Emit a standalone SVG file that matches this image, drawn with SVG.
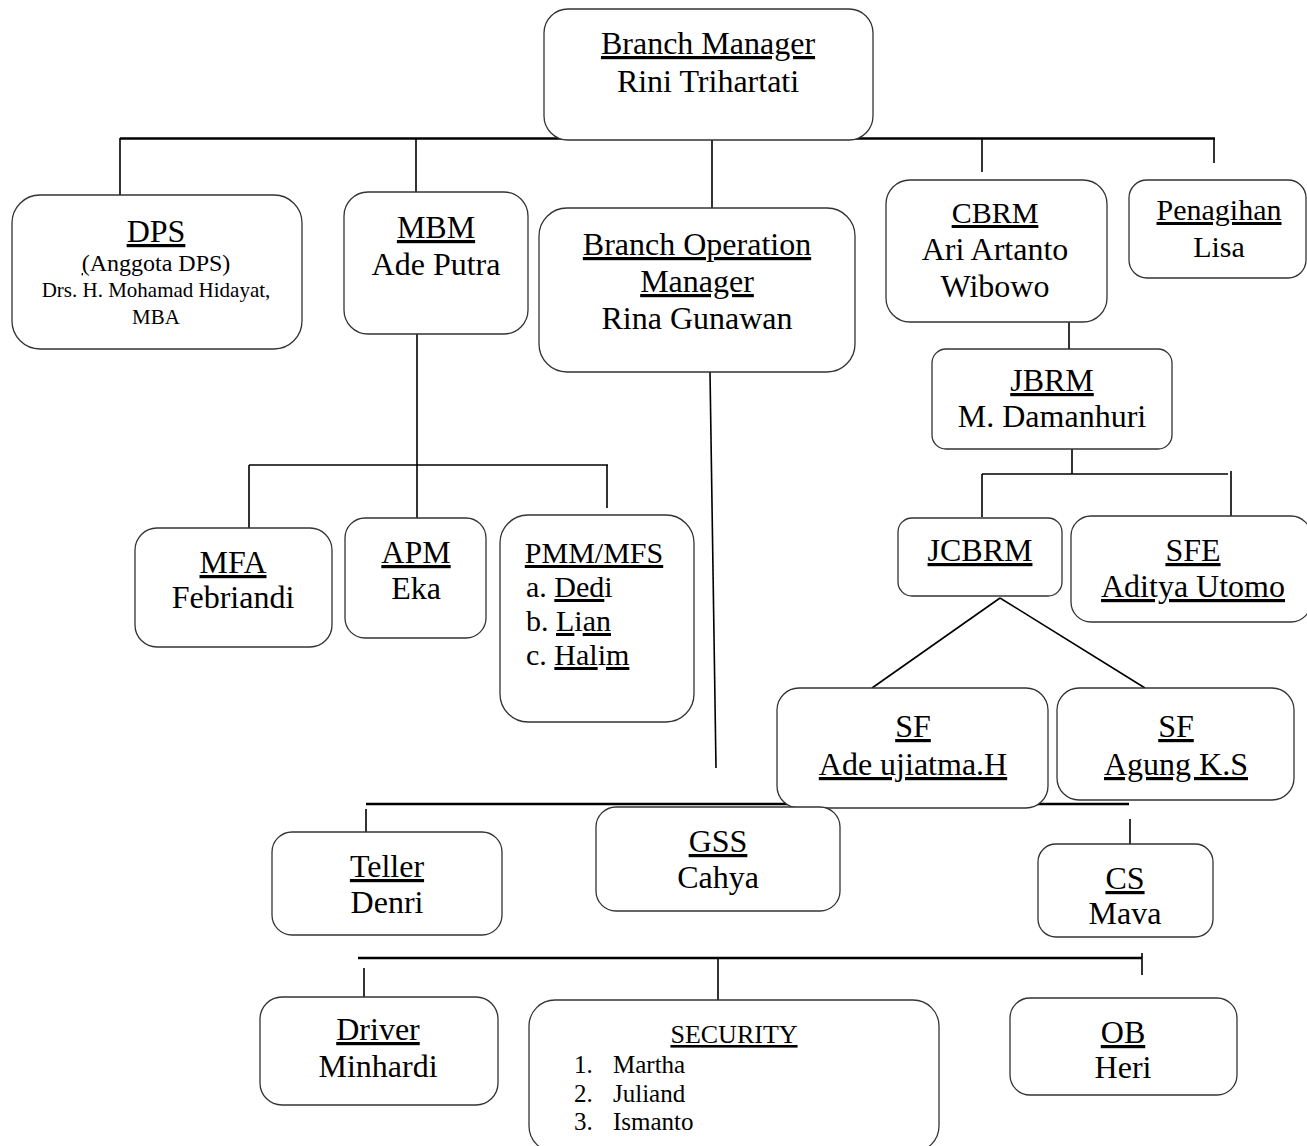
<svg xmlns="http://www.w3.org/2000/svg" width="1307" height="1146" viewBox="0 0 1307 1146">
<style>
.box{fill:#fff;stroke:#333;stroke-width:1.3}
.c{stroke:#000;stroke-width:1.6;fill:none}
.ct{stroke:#000;stroke-width:2.4;fill:none}
text{font-family:"Liberation Serif","Times New Roman",serif;fill:#000;font-size:32px;text-anchor:middle}
.u{text-decoration:underline}
.l{text-anchor:start}
text.f30{font-size:30px}
text.f24{font-size:24px}
text.f26{font-size:26px}
text.f25{font-size:25px}
text.f21{font-size:21px}
</style>
<rect width="1307" height="1146" fill="#fff"/>
<g id="connectors">
<line class="ct" x1="120" y1="138.5" x2="1215" y2="138.5"/>
<line class="c" x1="120" y1="138" x2="120" y2="195"/>
<line class="c" x1="416" y1="138" x2="416" y2="192"/>
<line class="c" x1="712" y1="138" x2="712" y2="208"/>
<line class="c" x1="982" y1="138" x2="982" y2="172"/>
<line class="c" x1="1214" y1="138" x2="1214" y2="163"/>
<line class="c" x1="417" y1="334" x2="417" y2="518"/>
<line class="c" x1="249" y1="465" x2="608" y2="465"/>
<line class="c" x1="249" y1="465" x2="249" y2="528"/>
<line class="c" x1="607" y1="465" x2="607" y2="508"/>
<line class="c" x1="710" y1="372" x2="716" y2="768"/>
<line class="c" x1="1069" y1="315" x2="1069" y2="349"/>
<line class="c" x1="1072" y1="449" x2="1072" y2="474"/>
<line class="c" x1="982" y1="474" x2="1228" y2="474"/>
<line class="c" x1="982" y1="474" x2="982" y2="517"/>
<line class="c" x1="1231" y1="471" x2="1231" y2="517"/>
<line class="c" x1="1000" y1="598" x2="872" y2="688"/>
<line class="c" x1="1000" y1="598" x2="1145" y2="688"/>
<line class="ct" x1="366" y1="804" x2="1129" y2="804"/>
<line class="c" x1="366" y1="809" x2="366" y2="832"/>
<line class="c" x1="1130" y1="819" x2="1130" y2="845"/>
<line class="ct" x1="358" y1="958" x2="1142" y2="958"/>
<line class="c" x1="1142" y1="953" x2="1142" y2="975"/>
<line class="c" x1="364" y1="968" x2="364" y2="998"/>
<line class="c" x1="718" y1="958" x2="718" y2="1000"/>
</g>
<g id="branch-manager">
<rect class="box" x="544" y="9" width="329" height="131" rx="24"/>
<text x="708" y="54" class="u">Branch Manager</text>
<text x="708" y="92">Rini Trihartati</text>
</g>
<g id="dps">
<rect class="box" x="12" y="195" width="290" height="154" rx="28"/>
<text x="156" y="242" class="u">DPS</text>
<text x="156" y="271" class="f24"><tspan class="u">(</tspan>Anggota DPS)</text>
<text x="156" y="297" class="f21">Drs. H. Mohamad Hidayat,</text>
<text x="156" y="324" class="f21">MBA</text>
</g>
<g id="mbm">
<rect class="box" x="344" y="192" width="184" height="142" rx="24"/>
<text x="436" y="238" class="u">MBM</text>
<text x="436" y="275">Ade Putra</text>
</g>
<g id="bom">
<rect class="box" x="539" y="208" width="316" height="164" rx="28"/>
<text x="697" y="255" class="u">Branch Operation</text>
<text x="697" y="292" class="u">Manager</text>
<text x="697" y="329">Rina Gunawan</text>
</g>
<g id="cbrm">
<rect class="box" x="886" y="180" width="221" height="142" rx="24"/>
<text x="995" y="223" class="f30 u">CBRM</text>
<text x="995" y="260">Ari Artanto</text>
<text x="995" y="297">Wibowo</text>
</g>
<g id="penagihan">
<rect class="box" x="1129" y="180" width="177" height="98" rx="18"/>
<text x="1219" y="220" class="f30 u">Penagihan</text>
<text x="1219" y="257" class="f30">Lisa</text>
</g>
<g id="jbrm">
<rect class="box" x="932" y="349" width="240" height="100" rx="14"/>
<text x="1052" y="391" class="u">JBRM</text>
<text x="1052" y="427">M. Damanhuri</text>
</g>
<g id="mfa">
<rect class="box" x="135" y="528" width="197" height="119" rx="22"/>
<text x="233" y="573" class="u">MFA</text>
<text x="233" y="608">Febriandi</text>
</g>
<g id="apm">
<rect class="box" x="345" y="518" width="141" height="120" rx="20"/>
<text x="416" y="563" class="u">APM</text>
<text x="416" y="599">Eka</text>
</g>
<g id="pmm-mfs">
<rect class="box" x="500" y="515" width="194" height="207" rx="28"/>
<text x="594" y="563" class="f30 u">PMM/MFS</text>
<text x="526" y="597" class="f30 l">a. <tspan class="u">Ded</tspan>i</text>
<text x="526" y="631" class="f30 l">b. <tspan class="u">L</tspan>i<tspan class="u">an</tspan></text>
<text x="526" y="665" class="f30 l">c. <tspan class="u">Hal</tspan>i<tspan class="u">m</tspan></text>
</g>
<g id="jcbrm">
<rect class="box" x="898" y="518" width="164" height="78" rx="14"/>
<text x="980" y="561" class="u">JCBRM</text>
</g>
<g id="sfe">
<rect class="box" x="1071" y="516" width="240" height="106" rx="20"/>
<text x="1193" y="561" class="u">SFE</text>
<text x="1193" y="597" class="u">Aditya Utomo</text>
</g>
<g id="sf-ade">
<rect class="box" x="777" y="688" width="271" height="120" rx="22"/>
<text x="913" y="737" class="u">SF</text>
<text x="913" y="775" class="u">Ade ujiatma.H</text>
</g>
<g id="sf-agung">
<rect class="box" x="1057" y="688" width="237" height="112" rx="22"/>
<text x="1176" y="737" class="u">SF</text>
<text x="1176" y="775" class="u">Agung K.S</text>
</g>
<g id="teller">
<rect class="box" x="272" y="832" width="230" height="103" rx="20"/>
<text x="387" y="877" class="u">Teller</text>
<text x="387" y="913">Denri</text>
</g>
<g id="gss">
<rect class="box" x="596" y="807" width="244" height="104" rx="20"/>
<text x="718" y="852" class="u">GSS</text>
<text x="718" y="888">Cahya</text>
</g>
<g id="cs">
<rect class="box" x="1038" y="844" width="175" height="93" rx="18"/>
<text x="1125" y="889" class="u">CS</text>
<text x="1125" y="924">Mava</text>
</g>
<g id="driver">
<rect class="box" x="260" y="997" width="238" height="108" rx="22"/>
<text x="378" y="1040" class="u">Driver</text>
<text x="378" y="1077">Minhardi</text>
</g>
<g id="security">
<rect class="box" x="529" y="1000" width="410" height="152" rx="26"/>
<text x="734" y="1043" class="f26 u">SECURITY</text>
<text x="574" y="1073" class="f25 l">1.</text>
<text x="613" y="1073" class="f25 l">Martha</text>
<text x="574" y="1102" class="f25 l">2.</text>
<text x="613" y="1102" class="f25 l">Juliand</text>
<text x="574" y="1130" class="f25 l">3.</text>
<text x="613" y="1130" class="f25 l">Ismanto</text>
</g>
<g id="ob">
<rect class="box" x="1010" y="998" width="227" height="97" rx="20"/>
<text x="1123" y="1043" class="u">OB</text>
<text x="1123" y="1078">Heri</text>
</g>
</svg>
